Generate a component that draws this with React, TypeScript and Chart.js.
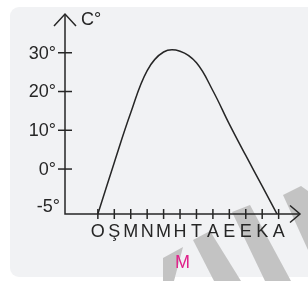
import React, { useEffect, useRef } from "react";
import { Chart, registerables } from "chart.js";

Chart.register(...registerables);

const months = ["O", "Ş", "M", "N", "M", "H", "T", "A", "E", "E", "K", "A"];
const temps = [-11.6, 1.7, 14.5, 25.4, 30.2, 30.4, 27.4, 20.2, 11.6, 3.5, -4.4, -12.4];
const yTickValues = [30, 20, 10, 0];
const yTickLabels = ["30°", "20°", "10°", "0°"];
const bottomLabel = "-5°";
const yUnit = "C°";
const figureLabel = "M";

const FONT = '18px "Liberation Sans", Arial, sans-serif';
const INK = "#262626";

const axesPlugin = {
  id: "customAxes",
  beforeDatasetsDraw(chart: any) {
    const ctx = chart.ctx;
    ctx.save();
    ctx.fillStyle = "#c3c3c3";
    const stripes = [
      [[163, 258], [183, 247], [174, 281], [163, 281]],
      [[193, 240], [210, 231], [241, 281], [214, 281]],
      [[232, 212], [250, 205], [291, 281], [265, 281]],
      [[283, 195], [301, 186], [308, 191], [308, 250]],
    ];
    stripes.forEach((p) => {
      ctx.beginPath();
      ctx.moveTo(p[0][0], p[0][1]);
      for (let i = 1; i < p.length; i++) ctx.lineTo(p[i][0], p[i][1]);
      ctx.closePath();
      ctx.fill();
    });
    ctx.restore();
  },
  afterDatasetsDraw(chart: any) {
    const ctx = chart.ctx;
    const xs = chart.scales.x;
    const ys = chart.scales.y;
    const ax = xs.left;
    const ay = ys.bottom;
    const top = ys.top;
    const right = xs.right;
    ctx.save();
    ctx.strokeStyle = INK;
    ctx.fillStyle = INK;
    ctx.lineWidth = 1.5;
    ctx.beginPath();
    ctx.moveTo(ax, top);
    ctx.lineTo(ax, ay);
    ctx.lineTo(right, ay);
    ctx.stroke();
    ctx.beginPath();
    ctx.moveTo(ax - 11, top + 12);
    ctx.lineTo(ax, top);
    ctx.lineTo(ax + 11, top + 12);
    ctx.moveTo(right - 10, ay - 8.5);
    ctx.lineTo(right, ay);
    ctx.lineTo(right - 10, ay + 8.5);
    ctx.stroke();
    ctx.font = FONT;
    ctx.textAlign = "right";
    ctx.textBaseline = "middle";
    yTickValues.forEach((v, i) => {
      const y = ys.getPixelForValue(v);
      ctx.beginPath();
      ctx.moveTo(ax - 7, y);
      ctx.lineTo(ax + 7, y);
      ctx.stroke();
      ctx.fillText(yTickLabels[i], ax - 9, y + 1);
    });
    ctx.fillText(bottomLabel, ax - 5, ay - 7);
    ctx.textAlign = "center";
    ctx.textBaseline = "top";
    months.forEach((m, i) => {
      const x = xs.getPixelForValue(i);
      ctx.beginPath();
      ctx.moveTo(x, ay - 5);
      ctx.lineTo(x, ay + 5);
      ctx.stroke();
      ctx.fillText(m, x, ay + 9);
    });
    ctx.textAlign = "left";
    ctx.textBaseline = "middle";
    ctx.fillText(yUnit, ax + 16, top + 6);
    ctx.fillStyle = "#e0218a";
    ctx.textAlign = "center";
    ctx.fillText(figureLabel, (xs.left + xs.right) / 2, 263);
    ctx.restore();
  },
};

export default function App() {
  const ref = useRef<HTMLCanvasElement | null>(null);
  useEffect(() => {
    if (!ref.current) return;
    const chart = new Chart(ref.current, {
      type: "line",
      data: {
        datasets: [
          {
            data: months.map((_, i) => ({ x: i, y: temps[i] })),
            borderColor: INK,
            borderWidth: 1.5,
            pointRadius: 0,
            tension: 0.4,
            fill: false,
          },
        ],
      },
      options: {
        responsive: false,
        animation: false,
        layout: { padding: { left: 65, right: 8, top: 14, bottom: 67 } },
        plugins: { legend: { display: false }, tooltip: { enabled: false } },
        scales: {
          x: { type: "linear", min: -2, max: 12.3, display: false },
          y: { type: "linear", min: -11.6, max: 40, display: false },
        },
      },
      plugins: [axesPlugin],
    });
    return () => chart.destroy();
  }, []);
  return (
    <div style={{ position: "fixed", left: 0, top: 0, width: 308, height: 281, background: "#fff" }}>
      <div
        style={{
          position: "absolute",
          left: 10,
          top: 7,
          width: 310,
          height: 270,
          background: "#f1f2f4",
          borderRadius: 9,
        }}
      />
      <canvas ref={ref} width={308} height={281} style={{ position: "absolute", left: 0, top: 0 }} />
    </div>
  );
}
